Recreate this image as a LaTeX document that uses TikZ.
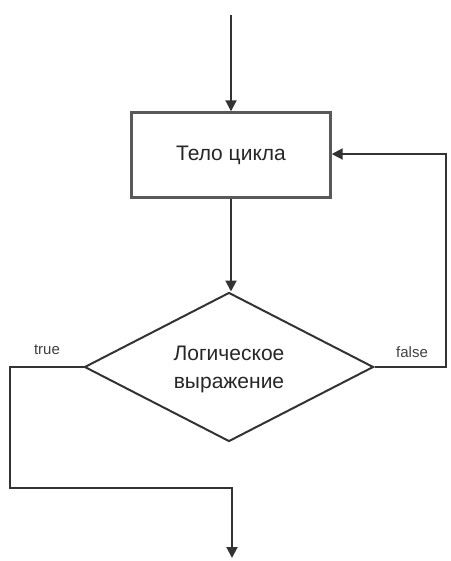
\documentclass[tikz,border=0pt]{standalone}
\usepackage{fontspec}
\setmainfont{Liberation Sans}
\usetikzlibrary{shapes.geometric,arrows.meta}
\begin{document}
\begin{tikzpicture}[x=1pt,y=-1pt,
  line/.style={draw=black!80,line width=2pt},
  arr/.style={line,-{Triangle[length=11pt,width=11pt]}},
  lbl/.style={font=\fontsize{15}{16}\selectfont,text=black!75},
  main/.style={font=\fontsize{21}{28}\selectfont,text=black!85}]
\useasboundingbox (0,0) rectangle (450,561);
\node[line,draw=black!65,line width=2.4pt,minimum width=199pt,minimum height=85pt,main] (body) at (231,155) {Тело цикла};
\node[line,draw=black!80,diamond,minimum width=289pt,minimum height=149pt,inner sep=0pt,aspect=2] (cond) at (229,367) {};
\node[main,align=center] (condtext) at (229,369) {Логическое\\выражение};
\coordinate (top) at (231,15);
\coordinate (r1) at (446,367);
\coordinate (r2) at (446,154);
\coordinate (l1) at (10,367);
\coordinate (l2) at (10,488);
\coordinate (b1) at (232,488);
\coordinate (b2) at (232,558);
\draw[arr] (top) -- (body.north);
\draw[arr] (body.south) -- (body.south |- cond.north);
\draw[arr] (cond.east) -- (r1) -- (r2) -- (body.east |- r2);
\draw[arr] (cond.west) -- (l1) -- (l2) -- (b1) -- (b2);
\node[lbl] (ltrue) at (47,350) {true};
\node[lbl] (lfalse) at (412,352) {false};
\end{tikzpicture}
\end{document}
